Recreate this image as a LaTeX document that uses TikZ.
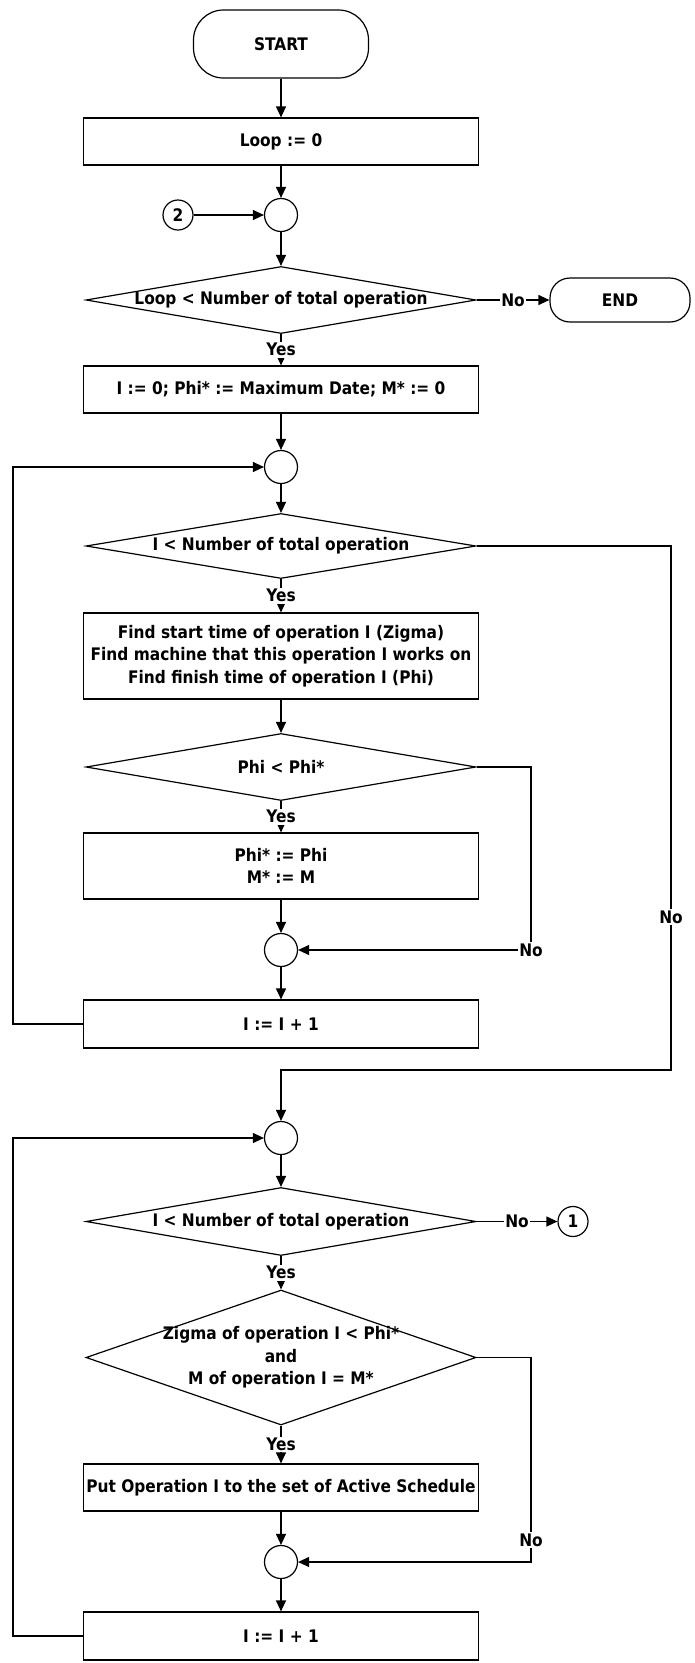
\documentclass[tikz,border=0pt]{standalone}
\usepackage{fontspec}
\setmainfont{DejaVu Sans}[FakeStretch=0.89]
\usetikzlibrary{arrows.meta,shapes.geometric}
\begin{document}
\begin{tikzpicture}[x=1pt,y=-1pt,
  every node/.style={font=\fontsize{17.3}{22.5}\selectfont\bfseries},
  arr/.style={line width=1.2pt,-{Triangle[length=11pt,width=10pt]}},
  proc/.style={draw,line width=1.2pt,rectangle,minimum width=395pt,inner sep=0pt,align=center},
  dec/.style={draw,line width=1.2pt,diamond,inner sep=0pt,minimum width=390pt},
  jn/.style={draw,line width=1.2pt,circle,minimum size=33pt,inner sep=0pt},
  conn/.style={draw,line width=1.2pt,circle,minimum size=30pt,inner sep=0pt},
  term/.style={draw,line width=1.2pt,rectangle,inner sep=0pt},
  lbl/.style={fill=white,inner sep=1.5pt}]
\useasboundingbox (0,0) rectangle (694,1663);
% nodes
\node[term,minimum width=175pt,minimum height=68pt,rounded corners=30pt] (start) at (281,44) {START};
\node[proc,minimum height=47pt] (loop) at (281,141.5) {Loop := 0};
\node[jn] (c1) at (281,215) {};
\node[conn] (two) at (178,215) {2};
\node[dec,minimum height=67pt,label={center:Loop < Number of total operation}] (d1) at (281,300) {};
\node[term,minimum width=140pt,minimum height=44pt,rounded corners=20pt] (endt) at (620,300) {END};
\node[proc,minimum height=47pt] (b2) at (281,389.5) {I := 0; Phi* := Maximum Date; M* := 0};
\node[jn] (c2) at (281,467) {};
\node[dec,minimum height=65pt,label={center:I < Number of total operation}] (d2) at (281,546) {};
\node[proc,minimum height=86pt] (find) at (281,656) {Find start time of operation I (Zigma)\\Find machine that this operation I works on\\Find finish time of operation I (Phi)};
\node[dec,minimum height=67pt,label={center:Phi < Phi*}] (d3) at (281,767) {};
\node[proc,minimum height=66pt] (b4) at (281,866) {Phi* := Phi\\M* := M};
\node[jn] (c3) at (281,950) {};
\node[proc,minimum height=48pt] (b5) at (281,1024) {I := I + 1};
\node[jn] (c4) at (281,1138) {};
\node[dec,minimum height=68pt,label={center:I < Number of total operation}] (d4) at (281,1221.5) {};
\node[conn] (one) at (573,1221.5) {1};
\node[dec,minimum height=135pt,label={[align=center]center:{Zigma of operation I < Phi*\\and\\M of operation I = M*}}] (d5) at (281,1357.5) {};
\node[proc,minimum height=47pt] (b6) at (281,1487.5) {Put Operation I to the set of Active Schedule};
\node[jn] (c5) at (281,1562) {};
\node[proc,minimum height=48pt] (b7) at (281,1636) {I := I + 1};
% helper coordinates
\coordinate (k3) at (531,950);
\coordinate (k5) at (531,1562);
\coordinate (r1) at (671,1070);
\coordinate (r2) at (281,1070);
\coordinate (l1) at (13,467);
\coordinate (l2) at (13,1138);
% connectors
\draw[arr] (start) -- (loop);
\draw[arr] (loop) -- (c1);
\draw[arr] (two) -- (c1);
\draw[arr] (c1) -- (d1);
\draw[arr] (d1.east) -- node[lbl]{No} (endt);
\draw[arr] (d1.south) -- node[lbl]{Yes} (b2);
\draw[arr] (b2) -- (c2);
\draw[arr] (c2) -- (d2);
\draw[arr] (d2.south) -- node[lbl]{Yes} (find);
\draw[arr] (find) -- (d3);
\draw[arr] (d3.south) -- node[lbl]{Yes} (b4);
\draw[arr] (b4) -- (c3);
\draw[arr] (d3.east) -| (k3) -- (c3);
\node[lbl] at (k3) {No};
\draw[arr] (c3) -- (b5);
\draw[arr] (b5.west) -| (l1) -- (c2);
\draw[arr] (d2.east) -| (r1) -- (r2) -- (c4);
\node[lbl] at (671,917) {No};
\draw[arr] (c4) -- (d4);
\draw[arr] (d4.east) -- node[lbl]{No} (one);
\draw[arr] (d4.south) -- node[lbl]{Yes} (d5);
\draw[arr] (d5.south) -- node[lbl]{Yes} (b6);
\draw[arr] (b6) -- (c5);
\draw[arr] (d5.east) -| (k5) -- (c5);
\node[lbl] at (531,1540) {No};
\draw[arr] (c5) -- (b7);
\draw[arr] (b7.west) -| (l2) -- (c4);
\end{tikzpicture}
\end{document}
